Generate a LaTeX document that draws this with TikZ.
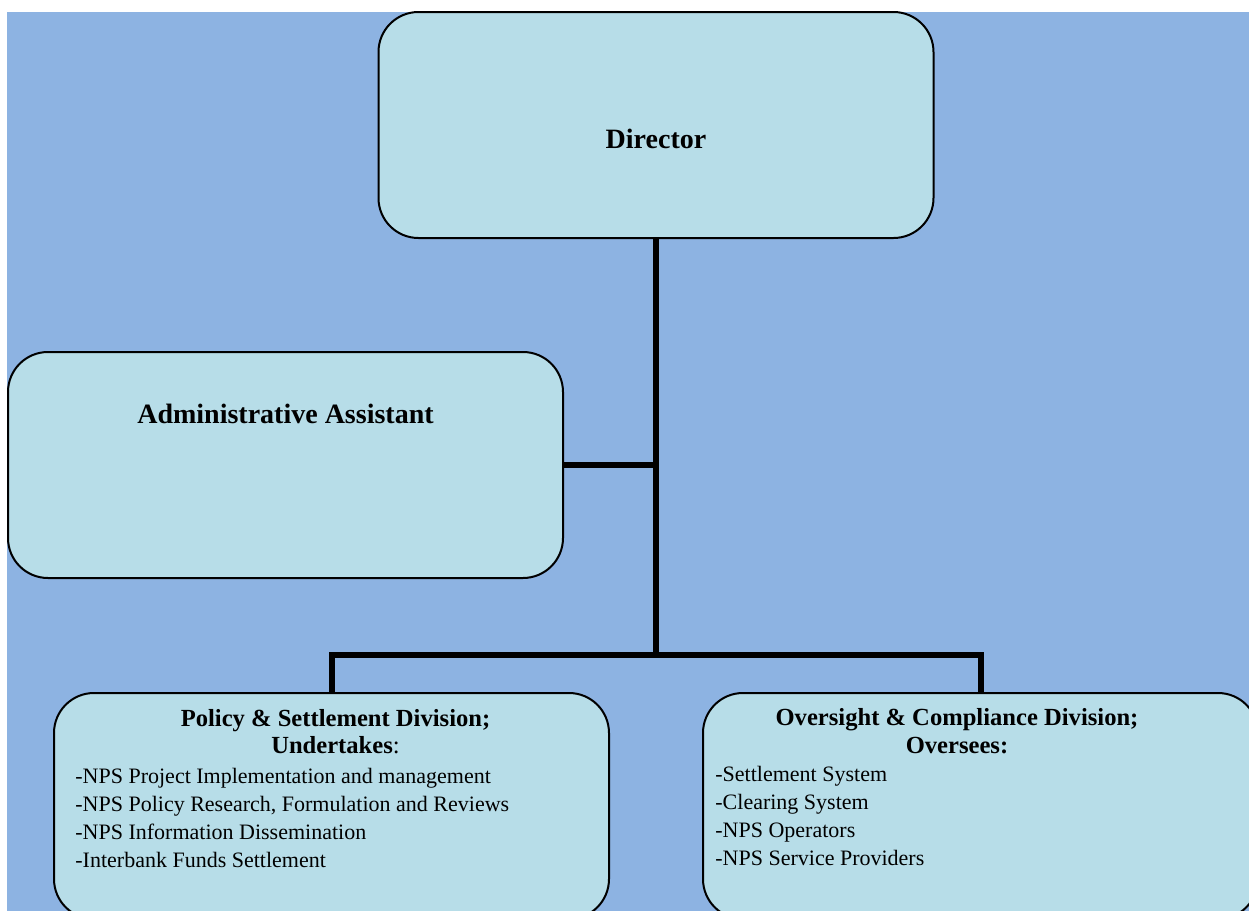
\documentclass[tikz,border=0pt]{standalone}
\usepackage{fontspec}
\setmainfont{Liberation Serif}
\definecolor{bgblue}{HTML}{8DB3E2}
\definecolor{boxaqua}{HTML}{B7DDE8}
\tikzset{
  orgbox/.style={draw=black, line width=1pt, fill=boxaqua, rounded corners=20pt,
    minimum width=277.5pt, minimum height=113pt, inner sep=0pt},
  link/.style={line width=3pt},
  title/.style={font=\bfseries\fontsize{14}{17}\selectfont, inner sep=0pt, anchor=base},
  head/.style={font=\bfseries\fontsize{12.3}{14}\selectfont, inner sep=0pt, anchor=base},
  item/.style={font=\fontsize{11}{14}\selectfont, inner sep=0pt, anchor=base west},
}
\begin{document}
\begin{tikzpicture}[x=0.5pt,y=-0.5pt]
    \useasboundingbox (0,0) rectangle (1249,911);
    \fill[white] (0,0) rectangle (1249,911);
    \fill[bgblue] (7,12) rectangle (1249,911);

    % Boxes
    \node[orgbox] (director) at (656,125) {};
    \node[orgbox] (admin) at (285.5,465) {};
    \node[orgbox] (policy) at (331.5,806) {};
    \node[orgbox] (oversight) at (980.5,806) {};

    % Reporting lines
    \coordinate (bus) at (656,655);
    \draw[link] (director.south) -- (bus);
    \draw[link] (admin.east) -- (admin.east -| bus);
    \draw[link] (policy.north) |- (bus) -| (oversight.north);

    % Labels
    \node[title] (director text) at (656,148) {Director};
    \node[title] (admin text) at (285.5,423) {Administrative Assistant};

    \node[head] (policy head) at (335.5,726) {Policy \& Settlement Division;};
    \node[head] (policy sub) at (335.5,753) {Undertakes\textmd{:}};
    \foreach \txt [count=\i from 0] in {-NPS Project Implementation and management,
        {-NPS Policy Research, Formulation and Reviews},
        -NPS Information Dissemination,
        -Interbank Funds Settlement}
        \node[item] (policy item\i) at (75,{783+28*\i}) {\txt};

    \node[head] (oversight head) at (957,725) {Oversight \& Compliance Division;};
    \node[head] (oversight sub) at (957,753) {Oversees:};
    \foreach \txt [count=\i from 0] in {-Settlement System, -Clearing System,
        -NPS Operators, -NPS Service Providers}
        \node[item] (oversight item\i) at (715,{781+28*\i}) {\txt};
\end{tikzpicture}
\end{document}
